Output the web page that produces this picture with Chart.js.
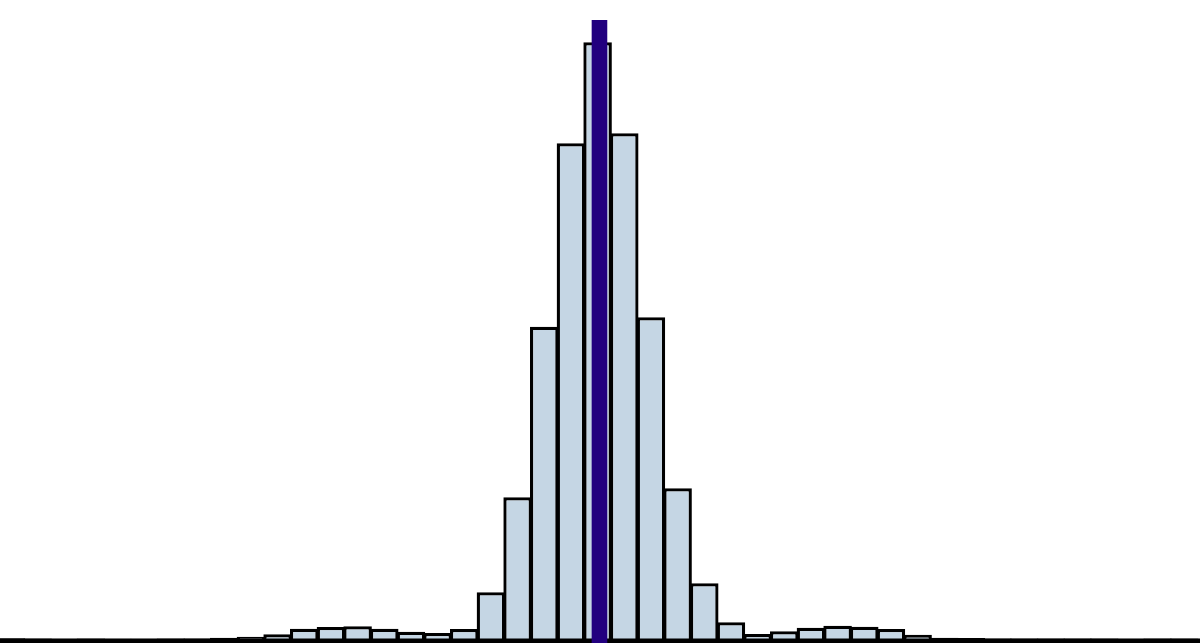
<!DOCTYPE html>
<html lang="en">
<head>
  <meta charset="UTF-8" />
  <title>Histogram</title>
  <script src="https://cdn.jsdelivr.net/npm/chart.js"></script>
  <style>
    html, body {
      margin: 0;
      padding: 0;
      background: #ffffff;
    }

    #wrap {
      width: 1200px;
      height: 643px;
      position: relative;
    }
  </style>
</head>
<body>

  <div id="wrap">
    <canvas id="histChart"></canvas>
  </div>

  <script>
    // bin index (45 bins) and bar heights
    const bins = [
      0, 1, 2, 3, 4, 5, 6, 7, 8, 9,
      10, 11, 12, 13, 14, 15, 16, 17, 18, 19,
      20, 21, 22, 23, 24, 25, 26, 27, 28, 29,
      30, 31, 32, 33, 34, 35, 36, 37, 38, 39,
      40, 41, 42, 43, 44
    ];
    const counts = [
      2.5, 2.2, 2.0, 2.3, 2.0, 2.1, 2.4, 2.2, 3.0, 4.1,
      6.5, 12.1, 13.8, 14.5, 12.1, 9.1, 7.8, 11.8, 48.5, 143.5,
      314.1, 497.5, 598.5, 507.5, 323.5, 152.5, 57.5, 18.5, 6.8, 9.5,
      13.1, 15.1, 14.1, 11.8, 6.1, 3.1, 2.8, 2.4, 2.3, 2.2,
      2.4, 2.3, 2.1, 2.3, 2.2
    ];
    // marker line (mean) position in bin units and its height
    const markerX = 22.07;
    const markerTop = 620.8;

    const xMin = -0.41;
    const xMax = xMin + bins.length;
    const yMax = 640.8;

    const barData = bins.map((b, i) => ({ x: b, y: counts[i] }));

    new Chart(document.getElementById('histChart'), {
      data: {
        datasets: [
          {
            type: 'bar',
            data: barData,
            backgroundColor: '#c5d6e4',
            borderColor: '#000000',
            borderWidth: 3.3,
            borderSkipped: 'start',
            categoryPercentage: 1,
            barPercentage: 1.07,
            order: 3
          },
          {
            // baseline along the bottom
            type: 'line',
            data: [{ x: xMin, y: 0 }, { x: xMax, y: 0 }],
            borderColor: '#000000',
            borderWidth: 4.4,
            pointRadius: 0,
            clip: false,
            order: 2
          },
          {
            type: 'line',
            data: [{ x: markerX, y: -3 }, { x: markerX, y: markerTop }],
            borderColor: '#22007f',
            borderWidth: 15.6,
            borderCapStyle: 'butt',
            pointRadius: 0,
            clip: false,
            order: 1
          }
        ]
      },
      options: {
        responsive: true,
        maintainAspectRatio: false,
        animation: false,
        layout: { padding: { left: 0, right: 0, top: 0, bottom: 2.2 } },
        plugins: {
          legend: { display: false },
          tooltip: { enabled: false }
        },
        scales: {
          x: {
            type: 'linear',
            min: xMin,
            max: xMax,
            offset: false,
            bounds: 'data',
            display: false
          },
          y: {
            min: 0,
            max: yMax,
            display: false
          }
        }
      }
    });
  </script>
</body>
</html>
